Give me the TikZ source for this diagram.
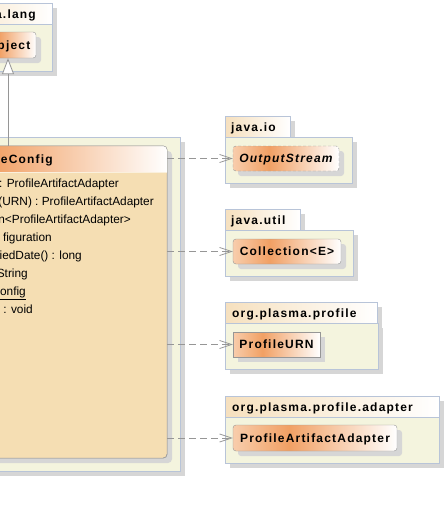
\documentclass[tikz,border=0pt]{standalone}
\usepackage{fontspec}
\setmainfont{Liberation Sans}
\newfontfamily\bsp{Liberation Sans}[LetterSpace=10]
\newfontfamily\rsp{Liberation Sans}
\usetikzlibrary{shadows,arrows.meta}
\definecolor{pkgfill}{RGB}{244,244,222}
\definecolor{pkgline}{RGB}{184,196,216}
\definecolor{tabl}{RGB}{246,224,190}
\definecolor{shd}{RGB}{214,214,214}
\definecolor{orL}{RGB}{248,205,172}
\definecolor{orP}{RGB}{241,160,100}
\definecolor{clsline}{RGB}{150,150,150}
\definecolor{wheatc}{RGB}{245,222,179}
\definecolor{conn}{RGB}{150,150,150}
\pgfdeclarehorizontalshading{clsgrad}{100bp}{color(0bp)=(orL); color(25bp)=(orL); color(42bp)=(orP); color(75bp)=(white); color(100bp)=(white)}
\tikzset{
  shdw/.style={drop shadow={shadow xshift=5pt,shadow yshift=-5pt,fill=shd,opacity=1}},
  pkgtab/.style={draw=pkgline, left color=tabl, right color=white, anchor=north west, inner sep=0pt, shdw},
  pkgbody/.style={draw=pkgline, fill=pkgfill, anchor=north west, inner sep=0pt, shdw},
  umlcls/.style={draw=clsline, shade, shading=clsgrad, rounded corners=3pt, inner sep=0pt,
    text height=8.7pt, text depth=0pt, font={\bsp\bfseries\fontsize{12}{14}\selectfont}, shdw},
  tabtext/.style={inner sep=0pt, font={\bsp\bfseries\fontsize{12}{14}\selectfont}},
  memtext/.style={inner sep=0pt, anchor=base east, font={\rsp\mdseries\fontsize{11.85}{14}\selectfont}},
  dep/.style={draw=conn, line width=0.8pt, dash pattern=on 7pt off 4pt, -{Straight Barb[length=12pt,width=8pt]}},
  gen/.style={draw=conn, line width=0.8pt, -{Triangle[open,length=16pt,width=12pt,fill=white]}}
}
\begin{document}
\begin{tikzpicture}[x=1pt,y=-1pt]
\useasboundingbox (0,0) rectangle (446,514);
\clip (0,0) rectangle (446,514);
% java.lang package
\node[pkgtab, minimum width=112, minimum height=21] (langtab) at (-60,3) {};
\node[pkgbody, minimum width=112, minimum height=47] (lang) at (-60,24) {};
\node[tabtext, anchor=base east] (langlbl) at (36,18) {a.lang};
\node[umlcls, minimum width=56, minimum height=26] (obj) at (8,45) {};
\node[tabtext, anchor=base east] (objlbl) at (30.5,49.5) {bject};
% main package
\node[pkgbody, minimum width=240, minimum height=334] (pmain) at (-60,137) {};
\node[draw=clsline, fill=wheatc, rounded corners=4pt, minimum width=177, minimum height=312, inner sep=0pt, shdw] (cfg) at (78.5,302) {};
\begin{scope}
  \clip[rounded corners=4pt] (cfg.north west) rectangle (cfg.south east);
  \shade[left color=orP, right color=white] (cfg.north west) rectangle ([yshift=-26pt]cfg.north east);
  \draw[white!55!wheatc, line width=1.4pt] ([yshift=-26.7pt]cfg.north west) -- ([yshift=-26.7pt]cfg.north east);
\end{scope}
\draw[clsline, rounded corners=4pt] (cfg.north west) rectangle (cfg.south east);
\node[tabtext, anchor=base east] (cfgname) at (53,163.5) {eConfig};
\node[memtext] (m1) at (119,187) {: ProfileArtifactAdapter};
\node[memtext] (m2) at (154,205) {(URN) : ProfileArtifactAdapter};
\node[memtext] (m3) at (131,223) {n<ProfileArtifactAdapter>};
\node[memtext] (m4) at (52,241) {figuration};
\node[memtext] (m5) at (82,259) {iedDate() : long};
\node[memtext] (m6) at (28,277) {String};
\node[memtext] (m7) at (26,295) {\underline{onfig}};
\node[memtext] (m8) at (33,313) {) : void};
% java.io
\node[pkgtab, minimum width=65, minimum height=21] (iotab) at (225,116) {};
\node[pkgbody, minimum width=127, minimum height=46] (io) at (225,137) {};
\node[tabtext, anchor=base west] (iolbl) at (231,131) {java.io};
\node[umlcls, dash pattern=on 3pt off 2pt, minimum width=106, minimum height=25] (os) at (286,158.5) {\itshape OutputStream};
% java.util
\node[pkgtab, minimum width=75, minimum height=21] (utiltab) at (225,209) {};
\node[pkgbody, minimum width=128, minimum height=46] (util) at (225,230) {};
\node[tabtext, anchor=base west] (utillbl) at (231,224) {java.util};
\node[umlcls, minimum width=108, minimum height=25] (coll) at (287,251.5) {Collection<E>};
% org.plasma.profile
\node[pkgtab, minimum width=152, minimum height=21] (proftab) at (225,302) {};
\node[pkgbody, minimum width=153, minimum height=46] (prof) at (225,323) {};
\node[tabtext, anchor=base west] (proflbl) at (232,317) {org.plasma.profile};
\node[umlcls, rounded corners=0pt, minimum width=87, minimum height=25] (urn) at (276.5,344.5) {ProfileURN};
% org.plasma.profile.adapter
\node[pkgtab, minimum width=214, minimum height=21] (adtab) at (225,396) {};
\node[pkgbody, minimum width=214, minimum height=46] (ad) at (225,417) {};
\node[tabtext, anchor=base west] (adlbl) at (232,411) {org.plasma.profile.adapter};
\node[umlcls, minimum width=164, minimum height=26] (paa) at (315,438) {ProfileArtifactAdapter};
% connectors
\draw[gen] (obj.south |- cfg.north) -- (obj.south);
\draw[dep] (cfg.east |- os.west) -- (os.west);
\draw[dep] (cfg.east |- coll.west) -- (coll.west);
\draw[dep] (cfg.east |- urn.west) -- (urn.west);
\draw[dep] (cfg.east |- paa.west) -- (paa.west);
\end{tikzpicture}
\end{document}
